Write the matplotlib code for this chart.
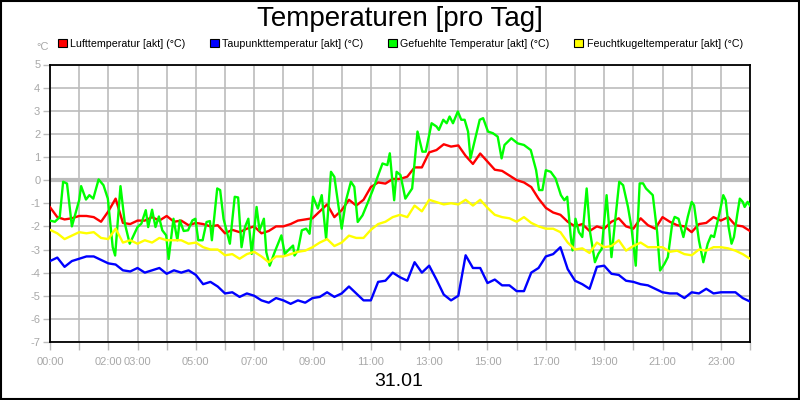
import numpy as np
import matplotlib
matplotlib.use("Agg")
import matplotlib.pyplot as plt
from matplotlib.patches import Patch, Rectangle

plt.rcParams['font.family'] = ['Liberation Sans', 'DejaVu Sans']

title = "Temperaturen [pro Tag]"
day_label = "31.01"
unit_label = "°C"
series_names = ["Lufttemperatur [akt] (°C)", "Taupunkttemperatur [akt] (°C)",
                "Gefuehlte Temperatur [akt] (°C)", "Feuchtkugeltemperatur [akt] (°C)"]
series_colors = ["#ff0000", "#0000ff", "#00ff00", "#ffff00"]

x_tick_hours = [0, 2, 3, 5, 7, 9, 11, 13, 15, 17, 19, 21, 23]
x_tick_labels = ["00:00", "02:00", "03:00", "05:00", "07:00", "09:00", "11:00",
                 "13:00", "15:00", "17:00", "19:00", "21:00", "23:00"]
y_ticks = [-7, -6, -5, -4, -3, -2, -1, 0, 1, 2, 3, 4, 5]

# 15-minute samples, 00:00 .. 24:00
hours_15 = np.arange(0, 24.001, 0.25)

luft = [-1.17, -1.6, -1.7, -1.65, -1.55, -1.55, -1.6, -1.8, -1.35, -0.8, -1.85, -1.9,
        -1.75, -1.75, -1.6, -1.75, -1.55, -1.8, -1.75, -1.95, -1.85, -1.9, -2.0, -1.95, -2.3,
        -2.15, -2.25, -2.1, -2.0, -2.3, -2.2, -2.0, -2.0, -1.9, -1.75, -1.7, -1.65,
        -1.35, -1.05, -1.6, -1.3, -0.85, -1.1, -0.85, -0.3, -0.1, -0.15, 0.05, 0.05,
        0.15, 0.55, 0.55, 1.2, 1.3, 1.55, 1.45, 1.5, 1.05, 0.7, 1.15, 0.8,
        0.45, 0.4, 0.2, 0.0, -0.1, -0.3, -0.8, -1.2, -1.4, -1.5, -1.8, -2.0,
        -1.9, -2.2, -2.0, -2.1, -1.8, -1.65, -2.0, -2.1, -1.65, -1.95, -2.1, -1.6,
        -1.8, -1.95, -2.0, -2.25, -1.9, -1.85, -1.6, -1.75, -1.6, -1.95, -2.0, -2.2]

taupunkt = [-3.5, -3.35, -3.75, -3.5, -3.4, -3.3, -3.3, -3.45, -3.6, -3.65, -3.9, -3.95,
            -3.8, -4.0, -3.9, -3.8, -4.05, -3.9, -4.0, -3.9, -4.1, -4.5, -4.4, -4.6, -4.9,
            -4.85, -5.05, -4.9, -5.0, -5.2, -5.3, -5.1, -5.2, -5.35, -5.2, -5.3, -5.1,
            -5.05, -4.85, -5.05, -4.9, -4.6, -4.9, -5.2, -5.2, -4.4, -4.35, -4.0, -4.2,
            -4.35, -3.55, -4.0, -3.7, -4.3, -4.95, -5.2, -5.0, -3.25, -3.8, -3.8, -4.45,
            -4.3, -4.55, -4.55, -4.8, -4.8, -4.0, -3.8, -3.3, -3.2, -2.9, -3.85, -4.35,
            -4.5, -4.7, -3.75, -3.7, -4.05, -4.1, -4.35, -4.4, -4.5, -4.55, -4.7, -4.85,
            -4.9, -4.9, -5.1, -4.85, -4.9, -4.7, -4.9, -4.85, -4.85, -4.85, -5.1, -5.25]

feucht = [-2.15, -2.3, -2.55, -2.4, -2.25, -2.3, -2.25, -2.5, -2.55, -2.1, -2.7, -2.6,
          -2.75, -2.6, -2.7, -2.5, -2.6, -2.6, -2.6, -2.75, -2.7, -2.9, -3.0, -3.0, -3.25,
          -3.2, -3.4, -3.2, -3.1, -3.3, -3.55, -3.3, -3.3, -3.2, -3.1, -3.05, -2.9,
          -2.7, -2.55, -2.85, -2.7, -2.4, -2.5, -2.5, -2.15, -1.9, -1.8, -1.6, -1.5,
          -1.6, -1.1, -1.35, -0.85, -0.95, -1.05, -1.0, -1.05, -0.85, -1.1, -0.85, -1.2,
          -1.5, -1.6, -1.65, -1.8, -1.6, -1.85, -2.0, -2.1, -2.1, -2.25, -2.7, -3.0,
          -2.95, -3.15, -2.7, -2.9, -2.85, -2.6, -3.05, -2.85, -2.7, -2.9, -2.9, -2.9,
          -3.1, -3.05, -3.2, -3.25, -3.0, -3.05, -2.9, -2.9, -2.95, -3.05, -3.2, -3.4]

gefuehlt_times = [
    "00:00", "00:10", "00:20", "00:27", "00:35", "00:45", "01:00", "01:04", "01:14", "01:21",
    "01:29", "01:40", "01:50", "01:59", "02:09", "02:14", "02:25", "02:34", "02:44", "03:00",
    "03:08", "03:17", "03:22", "03:30", "03:37", "03:44", "03:51", "03:59", "04:04", "04:14",
    "04:22", "04:27", "04:35", "04:44", "04:53", "04:59", "05:05", "05:14", "05:22", "05:29",
    "05:33", "05:44", "05:50", "05:57", "06:10", "06:20", "06:27", "06:34", "06:41", "06:48",
    "06:55", "07:05", "07:11", "07:20", "07:25", "07:32", "07:42", "07:49", "07:56", "08:03",
    "08:13", "08:20", "08:23", "08:30", "08:38", "08:47", "08:54", "09:01", "09:11", "09:19",
    "09:28", "09:38", "09:45", "10:00", "10:09", "10:19", "10:26", "10:33", "10:43", "10:53",
    "11:04", "11:14", "11:24", "11:34", "11:39", "11:48", "11:53", "12:01", "12:11", "12:25",
    "12:36", "12:46", "12:53", "13:05", "13:15", "13:20", "13:29", "13:36", "13:42", "13:49",
    "13:59", "14:06", "14:13", "14:20", "14:25", "14:34", "14:44", "14:51", "15:01", "15:11",
    "15:21", "15:29", "15:35", "15:49", "16:02", "16:15", "16:29", "16:40", "16:46", "16:53",
    "17:00", "17:10", "17:20", "17:31", "17:38", "17:44", "17:51", "17:55", "18:01", "18:08",
    "18:15", "18:24", "18:31", "18:41", "18:48", "18:55", "19:05", "19:15", "19:22", "19:31",
    "19:39", "19:49", "19:56", "20:05", "20:13", "20:20", "20:26", "20:40", "20:49", "20:55",
    "21:04", "21:11", "21:20", "21:25", "21:33", "21:43", "21:52", "22:00", "22:05", "22:15",
    "22:24", "22:33", "22:40", "22:46", "22:57", "23:05", "23:10", "23:16", "23:22", "23:27",
    "23:34", "23:39", "23:45", "23:49", "23:55", "24:00"]
gefuehlt = [
    -1.75, -1.8, -1.6, -0.07, -0.15, -2.0, -0.87, -0.26, -0.84, -0.65,
    -0.8, 0.03, -0.22, -0.8, -2.9, -3.26, -0.26, -1.88, -2.75, -2.03,
    -1.88, -1.3, -2.03, -1.28, -2.03, -1.57, -2.17, -2.39, -3.41, -1.67,
    -2.6, -1.74, -2.2, -2.17, -1.74, -1.67, -2.6, -2.6, -1.81, -1.77,
    -2.6, -0.36, -0.43, -1.67, -2.75, -0.72, -0.75, -2.9, -2.03, -1.67,
    -3.19, -1.16, -2.17, -1.67, -3.12, -3.7, -3.12, -2.75, -2.39, -3.19,
    -2.97, -2.83, -3.26, -3.04, -2.17, -2.1, -2.32, -0.72, -1.23, -0.65,
    -2.54, 0.36, 0.14, -2.1, -0.87, -0.07, -0.29, -1.81, -1.52, -1.01,
    -0.43, 0.14, 0.72, 0.65, 1.16, -0.87, 0.36, 0.22, -0.8, -0.36,
    2.1, 1.23, 1.23, 2.46, 2.32, 2.17, 2.61, 2.46, 2.75, 2.46,
    2.97, 2.61, 2.61, 2.1, 0.94, 1.74, 2.61, 2.68, 2.1, 2.03,
    1.88, 0.94, 1.52, 1.81, 1.59, 1.52, 1.3, 0.43, -0.43, -0.43,
    0.43, 0.36, 0.07, -0.65, -0.87, -0.72, -2.39, -3.04, -1.67, -2.25,
    -2.46, -0.36, -2.25, -3.55, -3.19, -2.97, -0.65, -3.33, -1.88, -0.07,
    -0.22, -1.16, -2.03, -3.7, -0.14, -0.14, -0.36, -0.65, -2.25, -3.91,
    -3.62, -3.33, -1.88, -1.59, -1.67, -2.46, -1.59, -0.94, -1.09, -2.61,
    -3.55, -2.75, -2.39, -2.46, -1.45, -0.65, -0.87, -2.03, -2.75, -2.46,
    -1.45, -0.8, -0.94, -1.16, -0.94, -1.1]


def to_hours(t):
    h, m = t.split(":")
    return int(h) + int(m) / 60.0


gef_hours = [to_hours(t) for t in gefuehlt_times]

fig = plt.figure(figsize=(8, 4), dpi=100)
fig.patch.set_facecolor("white")
ax = fig.add_axes([50 / 800, 58 / 400, 700 / 800, 277.5 / 400])

grid_c = "#bcbcbc"
lab_c = "#a8a8a8"
ax.set_xlim(0, 24)
ax.set_ylim(-7, 5)
ax.set_xticks(x_tick_hours)
ax.set_xticklabels(x_tick_labels)
ax.set_xticks(np.arange(0, 25, 1), minor=True)
ax.set_yticks(y_ticks)
ax.set_yticklabels([str(v) for v in y_ticks])
ax.tick_params(axis="x", which="both", length=6, color=grid_c, width=1,
               labelsize=8, labelcolor=lab_c, pad=5)
ax.tick_params(axis="y", length=5, color=grid_c, width=1, labelsize=8, labelcolor=lab_c, pad=2)
ax.grid(True, which="both", color=grid_c, linewidth=1.2, zorder=0)
ax.axhline(0, color=grid_c, linewidth=3, zorder=0.5)
for s in ax.spines.values():
    s.set_color("black")
    s.set_linewidth(1.3)
ax.set_axisbelow(True)

lw = 1.7
ax.plot(hours_15, luft, color=series_colors[0], lw=lw, zorder=3)
ax.plot(hours_15, taupunkt, color=series_colors[1], lw=lw, zorder=3)
ax.plot(gef_hours, gefuehlt, color=series_colors[2], lw=lw, zorder=3)
ax.plot(hours_15, feucht, color=series_colors[3], lw=lw, zorder=3)

fig.text(0.5, 1 - 19 / 400, title, ha="center", va="center", fontsize=20)
fig.text(399 / 800, 1 - 381 / 400, day_label, ha="center", va="center", fontsize=14)
fig.text(43 / 800, 1 - 47 / 400, unit_label, ha="center", va="center", fontsize=8, color=lab_c)

handles = [Patch(facecolor=c, edgecolor="black", linewidth=0.8) for c in series_colors]
fig.legend(handles, series_names, loc="center left", bbox_to_anchor=(58 / 800, 1 - 44 / 400),
           ncol=4, frameon=False, fontsize=7.7, handlelength=0.8, handleheight=0.8,
           handletextpad=0.35, columnspacing=2.3, borderpad=0, borderaxespad=0)

fig.add_artist(Rectangle((0.001, 0.002), 0.998, 0.996, transform=fig.transFigure,
                         fill=False, edgecolor="black", linewidth=1.5))

fig.savefig("out.png", dpi=100, facecolor="white")
